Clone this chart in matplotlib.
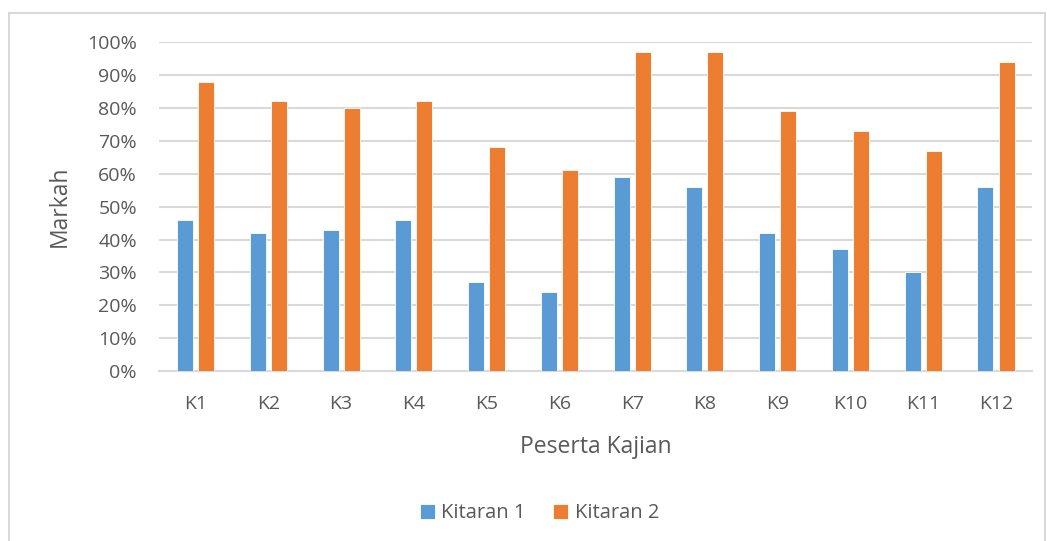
import matplotlib.pyplot as plt
from matplotlib.patches import Rectangle
from matplotlib.ticker import PercentFormatter
import numpy as np

# Data
peserta = ['K1', 'K2', 'K3', 'K4', 'K5', 'K6', 'K7', 'K8', 'K9', 'K10', 'K11', 'K12']
kitaran_1 = [0.46, 0.42, 0.43, 0.46, 0.27, 0.24, 0.59, 0.56, 0.42, 0.37, 0.30, 0.56]
kitaran_2 = [0.88, 0.82, 0.80, 0.82, 0.68, 0.61, 0.97, 0.97, 0.79, 0.73, 0.67, 0.94]

plt.rcParams['font.family'] = ['Open Sans', 'DejaVu Sans']
teks = '#595959'
grid = '#d9d9d9'

fig = plt.figure(figsize=(10.47, 5.41), dpi=100)
ax = fig.add_axes([0.152, 0.314, 0.834, 0.608])

x = np.arange(len(peserta))
lebar = 0.22
ax.bar(x - 0.145, kitaran_1, lebar, color='#5B9BD5', edgecolor='#ffffff', linewidth=0.6,
       label='Kitaran 1', zorder=3)
ax.bar(x + 0.145, kitaran_2, lebar, color='#ED7D31', edgecolor='#ffffff', linewidth=0.6,
       label='Kitaran 2', zorder=3)

ax.set_xlim(-0.5, len(peserta) - 0.5)
ax.set_ylim(0, 1.0)
ax.set_yticks(np.arange(0, 1.01, 0.1))
ax.yaxis.set_major_formatter(PercentFormatter(1.0, decimals=0))
ax.set_xticks(x)
ax.set_xticklabels(peserta)
ax.tick_params(length=0, colors=teks, labelsize=14)
ax.tick_params(axis='x', pad=17)
ax.tick_params(axis='y', pad=16)
ax.grid(axis='y', color=grid, linewidth=1.5, zorder=0)
for s in ['top', 'right', 'left']:
    ax.spines[s].set_visible(False)
ax.spines['bottom'].set_color(grid)
ax.spines['bottom'].set_linewidth(1.5)

ax.set_ylabel('Markah', fontsize=16.5, color=teks, labelpad=11)
ax.set_xlabel('Peserta Kajian', fontsize=16.5, color=teks, labelpad=16)

fig.legend(loc='center', bbox_to_anchor=(0.515, 0.051), ncol=2, frameon=False,
           fontsize=14.5, labelcolor=teks, handlelength=0.75, handleheight=0.75,
           handletextpad=0.3, columnspacing=1.4)

# bingkai carta
fig.patches.append(Rectangle((9 / 1047, -0.02), 1036 / 1047, 1.02 - 13 / 541,
                             transform=fig.transFigure, fill=False,
                             edgecolor=grid, linewidth=1.5))

plt.savefig('out.png', dpi=100)
